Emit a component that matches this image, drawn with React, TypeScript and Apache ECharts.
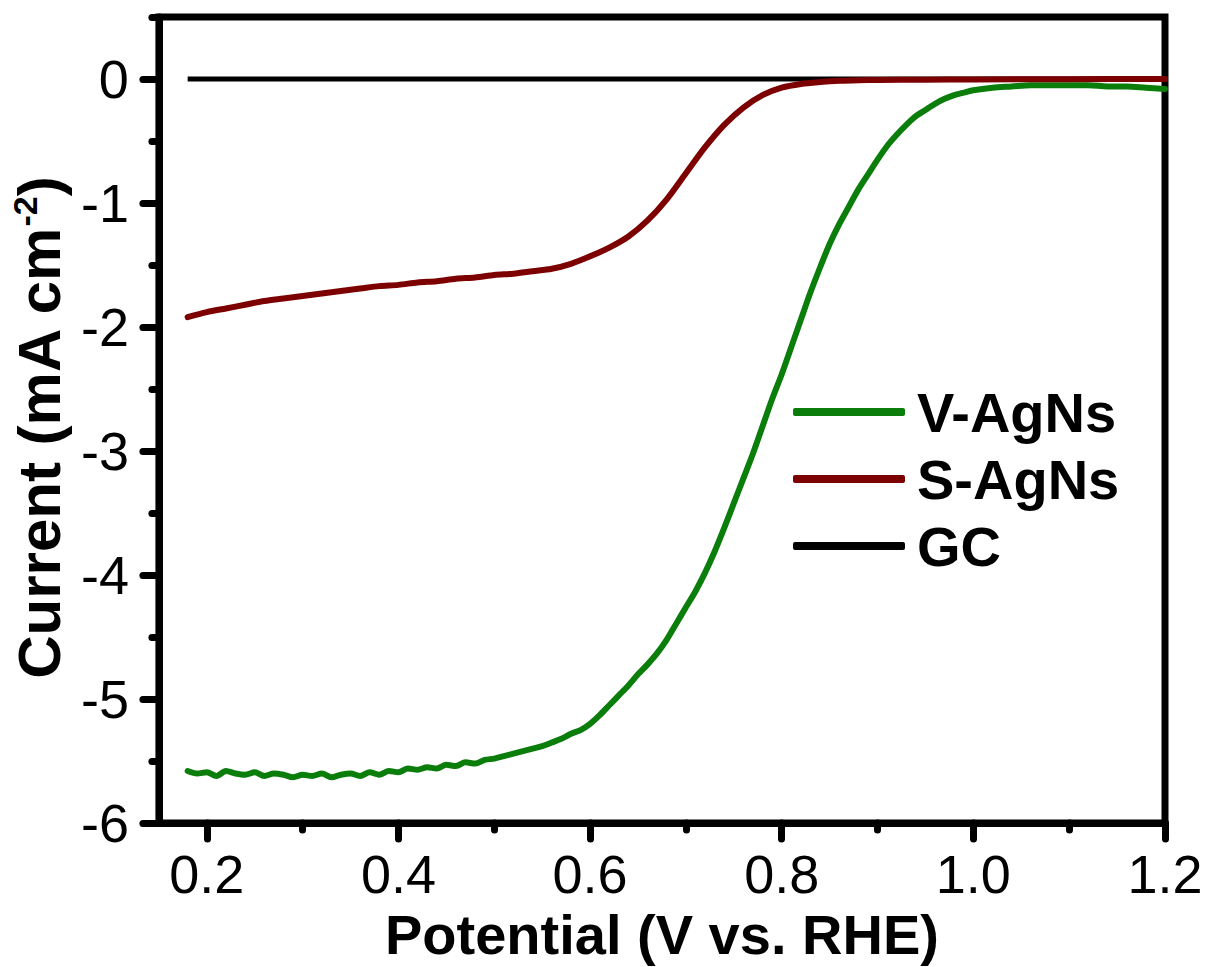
import React, { useEffect, useRef } from "react";
import * as echarts from "echarts";

const vX = [0.18,0.19,0.20,0.21,0.22,0.23,0.24,0.25,0.26,0.27,0.28,0.29,0.30,0.31,0.32,0.33,0.34,0.35,0.36,0.37,0.38,0.39,0.40,0.41,0.42,0.43,0.44,0.45,0.46,0.47,0.48,0.49,0.50,0.51,0.52,0.53,0.54,0.55,0.56,0.57,0.58,0.59,0.60,0.61,0.62,0.63,0.64,0.65,0.66,0.67,0.68,0.69,0.70,0.71,0.72,0.73,0.74,0.75,0.76,0.77,0.78,0.79,0.80,0.81,0.82,0.83,0.84,0.85,0.86,0.87,0.88,0.89,0.90,0.91,0.92,0.93,0.94,0.95,0.96,0.97,0.98,0.99,1.00,1.02,1.04,1.06,1.08,1.10,1.12,1.14,1.16,1.18,1.20];
const vY = [-5.58,-5.60,-5.59,-5.62,-5.58,-5.60,-5.61,-5.59,-5.62,-5.60,-5.61,-5.63,-5.61,-5.62,-5.60,-5.63,-5.61,-5.60,-5.62,-5.59,-5.61,-5.58,-5.59,-5.56,-5.57,-5.55,-5.56,-5.53,-5.54,-5.51,-5.52,-5.49,-5.48,-5.46,-5.44,-5.42,-5.40,-5.38,-5.35,-5.32,-5.28,-5.25,-5.20,-5.13,-5.05,-4.97,-4.89,-4.80,-4.72,-4.63,-4.52,-4.39,-4.26,-4.13,-3.98,-3.81,-3.62,-3.42,-3.22,-3.02,-2.80,-2.58,-2.38,-2.16,-1.94,-1.72,-1.52,-1.33,-1.17,-1.03,-0.89,-0.77,-0.65,-0.54,-0.45,-0.37,-0.30,-0.25,-0.20,-0.16,-0.13,-0.11,-0.09,-0.07,-0.06,-0.05,-0.05,-0.05,-0.05,-0.06,-0.06,-0.07,-0.08];

const sX = [0.18,0.20,0.22,0.24,0.26,0.28,0.30,0.32,0.34,0.36,0.38,0.40,0.42,0.44,0.46,0.48,0.50,0.52,0.54,0.56,0.58,0.60,0.62,0.64,0.66,0.68,0.70,0.72,0.74,0.76,0.78,0.80,0.82,0.84,0.86,0.88,0.90,0.95,1.00,1.10,1.20];
const sY = [-1.92,-1.88,-1.85,-1.82,-1.79,-1.77,-1.75,-1.73,-1.71,-1.69,-1.67,-1.66,-1.64,-1.63,-1.61,-1.60,-1.58,-1.57,-1.55,-1.53,-1.49,-1.43,-1.36,-1.27,-1.14,-0.97,-0.76,-0.55,-0.37,-0.23,-0.13,-0.07,-0.04,-0.025,-0.015,-0.01,-0.008,-0.005,-0.003,-0.001,0.0];

const gcX = [0.18, 1.20];
const gcY = [0, 0];

const xTickLabels = [0.2, 0.4, 0.6, 0.8, 1.0, 1.2];
const xMinorTicks = [0.3, 0.5, 0.7, 0.9, 1.1];
const yTickLabels = [-6, -5, -4, -3, -2, -1, 0];
const yMinorTicks = [-5.5, -4.5, -3.5, -2.5, -1.5, -0.5, 0.5];

const FONT = "Liberation Sans, Arial, sans-serif";

export default function App() {
  const ref = useRef<HTMLDivElement>(null);
  useEffect(() => {
    if (!ref.current) return;
    const chart = echarts.init(ref.current, undefined, { renderer: "svg" });
    const pairs = (xs: number[], ys: number[]) => xs.map((x, i) => [x, ys[i]]);
    const axisLineStyle = { color: "#000", width: 7, cap: "round" };
    chart.setOption({
      animation: false,
      backgroundColor: "#fff",
      grid: {
        left: 157, right: 47, top: 17, bottom: 136,
        show: true, borderColor: "#000", borderWidth: 7, backgroundColor: "transparent",
      },
      legend: {
        orient: "vertical",
        left: 793,
        top: 384,
        padding: 0,
        itemWidth: 112,
        itemHeight: 8,
        itemGap: 11,
        icon: "roundRect",
        data: ["V-AgNs", "S-AgNs", "GC"],
        textStyle: { fontSize: 56, fontWeight: "bold", fontFamily: FONT, color: "#000", lineHeight: 56, padding: [0, 0, 0, 7] },
      },
      xAxis: [
        {
          type: "value", min: 0.15, max: 1.2, position: "bottom",
          name: "Potential (V vs. RHE)", nameLocation: "middle", nameGap: 70,
          nameTextStyle: { fontSize: 56, fontWeight: "bold", fontFamily: FONT, color: "#000" },
          axisLine: { show: true, onZero: false, lineStyle: axisLineStyle },
          axisTick: { show: true, inside: false, length: 16, customValues: xTickLabels, lineStyle: { color: "#000", width: 7, cap: "round" } },
          axisLabel: { show: true, customValues: xTickLabels, margin: 24, fontSize: 54, fontFamily: FONT, color: "#000", formatter: (v: number) => v.toFixed(1) },
          splitLine: { show: false },
        },
        {
          type: "value", min: 0.15, max: 1.2, position: "bottom",
          axisLine: { show: false, onZero: false },
          axisTick: { show: true, inside: false, length: 7, customValues: xMinorTicks, lineStyle: { color: "#000", width: 7, cap: "round" } },
          axisLabel: { show: false },
          splitLine: { show: false },
        },
      ],
      yAxis: [
        {
          type: "value", min: -6, max: 0.5, position: "left",
          name: "Current (mA cm{sup|-2})", nameLocation: "middle", nameGap: 74, nameRotate: 90,
          nameTextStyle: {
            fontSize: 60, fontWeight: "bold", fontFamily: FONT, color: "#000", lineHeight: 62,
            padding: [0, 16, 0, 0],
            rich: { sup: { fontSize: 34, fontWeight: "bold", fontFamily: FONT, color: "#000", verticalAlign: "top", lineHeight: 32 } },
          },
          axisLine: { show: true, onZero: false, lineStyle: axisLineStyle },
          axisTick: { show: true, inside: false, length: 16, customValues: yTickLabels, lineStyle: { color: "#000", width: 7, cap: "round" } },
          axisLabel: { show: true, customValues: yTickLabels, margin: 30, fontSize: 54, fontFamily: FONT, color: "#000" },
          splitLine: { show: false },
        },
        {
          type: "value", min: -6, max: 0.5, position: "left",
          axisLine: { show: false, onZero: false },
          axisTick: { show: true, inside: false, length: 7, customValues: yMinorTicks, lineStyle: { color: "#000", width: 7, cap: "round" } },
          axisLabel: { show: false },
          splitLine: { show: false },
        },
      ],
      series: [
        {
          name: "GC", type: "line", showSymbol: false, data: pairs(gcX, gcY),
          lineStyle: { color: "#000000", width: 5 }, itemStyle: { color: "#000000" },
        },
        {
          name: "V-AgNs", type: "line", showSymbol: false, smooth: 0.3, data: pairs(vX, vY),
          lineStyle: { color: "#0a7d0a", width: 6, cap: "round" }, itemStyle: { color: "#0a7d0a" },
        },
        {
          name: "S-AgNs", type: "line", showSymbol: false, smooth: 0.3, data: pairs(sX, sY),
          lineStyle: { color: "#7d0000", width: 6, cap: "round" }, itemStyle: { color: "#7d0000" },
        },
      ],
    });
    return () => chart.dispose();
  }, []);
  return <div ref={ref} style={{ position: "fixed", left: 0, top: 0, width: 1212, height: 967, background: "#fff" }} />;
}
